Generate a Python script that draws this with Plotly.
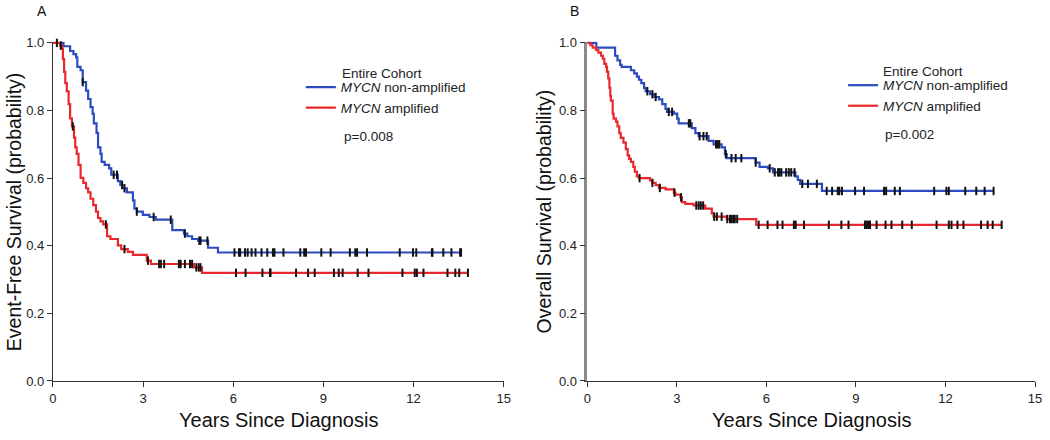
import numpy as np
import plotly.graph_objects as go

# ---------------- data ----------------
# Panel A: Event-free survival
efs_non_t = [0, 0.35, 0.57, 0.68, 0.77, 0.81, 0.92, 0.99, 1.10, 1.17, 1.25, 1.32, 1.36, 1.45, 1.50,
             1.58, 1.62, 1.72, 1.87, 1.94, 2.16, 2.24, 2.31, 2.46, 2.66, 2.71, 2.79, 2.99, 3.21, 3.42,
             3.97, 4.36, 4.47, 4.63, 4.83, 5.16, 5.49, 13.58]
efs_non_s = [1.0, 0.990, 0.976, 0.967, 0.957, 0.929, 0.919, 0.884, 0.859, 0.834, 0.810, 0.790, 0.762,
             0.734, 0.691, 0.672, 0.648, 0.639, 0.629, 0.610, 0.591, 0.580, 0.570, 0.558, 0.534, 0.510,
             0.501, 0.491, 0.485, 0.477, 0.446, 0.436, 0.428, 0.420, 0.415, 0.394, 0.380, 0.380]
efs_non_cens = [0.99, 2.02, 2.13, 2.30, 2.38, 2.79, 3.35, 3.92, 4.39, 4.87, 4.91, 5.14,
                6.04, 6.19, 6.23, 6.39, 6.48, 6.61, 6.74, 6.94, 7.13, 7.32, 7.37, 7.67, 8.23, 8.36,
                8.42, 8.93, 9.24, 9.88, 10.06, 10.12, 10.45, 11.54, 11.98, 12.09, 12.61, 12.63,
                12.99, 13.26, 13.55, 13.58]

efs_amp_t = [0, 0.24, 0.30, 0.33, 0.37, 0.41, 0.46, 0.52, 0.57, 0.63, 0.70, 0.74, 0.79, 0.85, 0.92,
             1.01, 1.10, 1.17, 1.25, 1.34, 1.43, 1.50, 1.58, 1.67, 1.80, 1.91, 2.16, 2.27, 2.49, 2.66,
             3.12, 3.26, 4.69, 4.96, 13.81]
efs_amp_s = [1.0, 0.992, 0.983, 0.952, 0.914, 0.881, 0.857, 0.819, 0.777, 0.753, 0.720, 0.691, 0.672,
             0.639, 0.601, 0.586, 0.570, 0.558, 0.539, 0.520, 0.501, 0.482, 0.472, 0.463, 0.428, 0.420,
             0.401, 0.390, 0.382, 0.373, 0.356, 0.346, 0.336, 0.320, 0.320]
efs_amp_cens = [0.13, 0.26, 0.66, 1.76, 2.38, 3.16, 3.53, 3.59, 3.70, 4.19, 4.25, 4.39, 4.56, 4.63,
                4.77, 4.85, 4.91, 6.09, 6.41, 6.97, 7.22, 7.24, 8.09, 8.49, 8.71, 9.35, 9.51, 9.64,
                10.14, 10.50, 11.63, 12.04, 12.11, 12.33, 13.13, 13.39, 13.52, 13.81]

# Panel B: Overall survival
os_non_t = [0, 0.30, 0.93, 1.01, 1.10, 1.15, 1.46, 1.57, 1.66, 1.73, 1.81, 1.90, 1.95, 2.10, 2.25,
            2.40, 2.51, 2.62, 2.67, 2.90, 3.01, 3.06, 3.50, 3.62, 3.73, 4.06, 4.23, 4.50, 4.61, 4.67,
            5.64, 5.77, 6.05, 6.22, 6.97, 7.05, 7.13, 7.86, 13.61]
os_non_s = [1.0, 0.986, 0.962, 0.948, 0.935, 0.929, 0.919, 0.910, 0.900, 0.891, 0.881, 0.867, 0.857,
            0.848, 0.840, 0.833, 0.819, 0.805, 0.796, 0.791, 0.776, 0.762, 0.748, 0.733, 0.724, 0.710,
            0.700, 0.691, 0.671, 0.659, 0.646, 0.633, 0.629, 0.617, 0.605, 0.595, 0.583, 0.562, 0.562]
os_non_cens = [2.01, 2.18, 2.29, 2.73, 2.84, 3.40, 3.45, 3.76, 3.89, 4.00, 4.31, 4.37, 4.42, 4.64,
               4.83, 4.97, 5.16, 5.64, 6.11, 6.28, 6.39, 6.44, 6.50, 6.66, 6.75, 6.83, 6.94, 7.20,
               7.39, 7.69, 8.02, 8.20, 8.39, 8.44, 8.53, 8.97, 9.27, 9.94, 10.01, 10.30, 10.47,
               11.62, 12.03, 12.11, 12.66, 13.03, 13.31, 13.61]

os_amp_t = [0, 0.10, 0.18, 0.29, 0.37, 0.46, 0.52, 0.57, 0.63, 0.66, 0.70, 0.74, 0.77, 0.79, 0.85,
            0.88, 0.96, 1.01, 1.07, 1.12, 1.21, 1.29, 1.35, 1.40, 1.46, 1.54, 1.59, 1.66, 1.73, 2.10,
            2.18, 2.29, 2.40, 2.62, 2.90, 2.95, 3.12, 3.17, 3.28, 3.56, 3.95, 4.17, 4.23, 4.67, 5.66,
            13.88]
os_amp_s = [1.0, 0.993, 0.986, 0.979, 0.971, 0.962, 0.953, 0.938, 0.929, 0.914, 0.895, 0.867, 0.843,
            0.829, 0.791, 0.776, 0.767, 0.753, 0.733, 0.719, 0.705, 0.686, 0.667, 0.657, 0.648, 0.633,
            0.619, 0.605, 0.600, 0.593, 0.586, 0.579, 0.571, 0.567, 0.557, 0.551, 0.543, 0.529, 0.524,
            0.519, 0.510, 0.496, 0.486, 0.479, 0.462, 0.462]
os_amp_cens = [1.75, 2.18, 2.43, 2.92, 3.14, 3.65, 3.73, 3.80, 3.88, 4.25, 4.34, 4.50, 4.69, 4.78,
               4.83, 4.89, 4.94, 5.02, 5.74, 6.04, 6.37, 6.54, 6.92, 6.98, 7.26, 8.09, 8.51, 8.75,
               9.30, 9.36, 9.41, 9.47, 9.69, 9.99, 10.19, 10.55, 10.87, 11.70, 12.11, 12.20, 12.40,
               12.60, 13.19, 13.41, 13.58, 13.88]

series_names = ["<i>MYCN</i> non-amplified", "<i>MYCN</i> amplified"]
x_ticks = [0, 3, 6, 9, 12, 15]
y_ticks = [0.0, 0.2, 0.4, 0.6, 0.8, 1.0]
p_values = ["p=0.008", "p=0.002"]
y_titles = ["Event-Free Survival (probability)", "Overall Survival (probability)"]
x_title = "Years Since Diagnosis"
legend_title = "Entire Cohort"
panel_labels = ["A", "B"]

BLUE = "#2c4bbf"
RED = "#e8282c"
FONT = "Liberation Sans, Arial, sans-serif"
W, H = 1050, 440


def step_value(times, surv, t):
    idx = np.searchsorted(np.asarray(times), t, side="right") - 1
    return float(np.asarray(surv)[max(idx, 0)])


fig = go.Figure()

panels = [
    ("x", "y", "legend", [(efs_non_t, efs_non_s, efs_non_cens, BLUE), (efs_amp_t, efs_amp_s, efs_amp_cens, RED)]),
    ("x2", "y2", "legend2", [(os_non_t, os_non_s, os_non_cens, BLUE), (os_amp_t, os_amp_s, os_amp_cens, RED)]),
]

for xa, ya, lg, groups in panels:
    for (t, s, c, col), nm in zip(groups, series_names):
        fig.add_trace(go.Scatter(x=t, y=s, mode="lines", line=dict(color=col, width=2.2, shape="hv"),
                                 name=nm, xaxis=xa, yaxis=ya, legend=lg, showlegend=True,
                                 hoverinfo="skip"))
    for (t, s, c, col), nm in zip(groups, series_names):
        cy = [step_value(t, s, v) for v in c]
        fig.add_trace(go.Scatter(x=c, y=cy, mode="markers",
                                 marker=dict(symbol="line-ns", size=6, color="black",
                                             line=dict(color="#111111", width=2)),
                                 xaxis=xa, yaxis=ya, showlegend=False, cliponaxis=False,
                                 hoverinfo="skip"))

# geometry (pixels -> paper)
xA = [49.5 / W, 505 / W]
xB = [589.5 / W, 1042 / W]
yD = [(H - 387.3) / H, (H - 36.7) / H]

axis_common = dict(showgrid=False, zeroline=False, ticks="outside", ticklen=5, tickwidth=1.3,
                   tickcolor="#333333", tickfont=dict(family=FONT, size=13, color="#222222"),
                   showline=True, linewidth=1.3, linecolor="#333333", mirror=False)

fig.update_layout(
    width=W, height=H, margin=dict(l=0, r=0, t=0, b=0),
    paper_bgcolor="white", plot_bgcolor="white",
    font=dict(family=FONT, color="#222222"),
    xaxis=dict(domain=xA, range=[0, 15], tickvals=x_ticks, anchor="y", **axis_common),
    yaxis=dict(domain=yD, range=[0, 1.004], tickvals=y_ticks, tickformat=".1f", anchor="x", **axis_common),
    xaxis2=dict(domain=xB, range=[0, 15], tickvals=x_ticks, anchor="y2", **axis_common),
    yaxis2=dict(domain=yD, range=[0, 1.004], tickvals=y_ticks, tickformat=".1f", anchor="x2",
                **{**axis_common, "linecolor": "#8a8a8a", "linewidth": 2.5}),
    legend=dict(x=300 / W, y=(H - 68) / H, xanchor="left", yanchor="top", bgcolor="rgba(0,0,0,0)",
                font=dict(family=FONT, size=13.5, color="#222222"), tracegroupgap=0, itemwidth=30),
    legend2=dict(x=848 / W, y=(H - 66) / H, xanchor="left", yanchor="top", bgcolor="rgba(0,0,0,0)",
                 font=dict(family=FONT, size=13.5, color="#222222"), tracegroupgap=0, itemwidth=30),
)

ann = []
for i, (xd, xr) in enumerate([(xA, "x"), (xB, "x2")]):
    yr = "y" if i == 0 else "y2"
    ann.append(dict(text=x_title, xref=f"{xr} domain", x=0.5, yref="paper", y=(H - 428) / H,
                    xanchor="center", yanchor="middle", showarrow=False,
                    font=dict(family=FONT, size=20, color="#111111")))
    ann.append(dict(text=y_titles[i], xref="paper", x=(10 if i == 0 else 546) / W,
                    yref=f"{yr} domain", y=0.5, textangle=-90, xanchor="center", yanchor="middle",
                    showarrow=False, font=dict(family=FONT, size=19.5, color="#111111")))
    ann.append(dict(text=panel_labels[i], xref="paper", x=(38 if i == 0 else 577) / W,
                    yref="paper", y=(H - 5) / H, xanchor="center", yanchor="middle",
                    showarrow=False, font=dict(family=FONT, size=14, color="#111111")))

ann.append(dict(text=legend_title, xref="paper", x=340 / W, yref="paper", y=(H - 70) / H,
                xanchor="left", yanchor="middle", showarrow=False,
                font=dict(family=FONT, size=13.5, color="#222222")))
ann.append(dict(text=p_values[0], xref="paper", x=342 / W, yref="paper", y=(H - 135) / H,
                xanchor="left", yanchor="middle", showarrow=False,
                font=dict(family=FONT, size=13.5, color="#222222")))
ann.append(dict(text=legend_title, xref="paper", x=886 / W, yref="paper", y=(H - 68) / H,
                xanchor="left", yanchor="middle", showarrow=False,
                font=dict(family=FONT, size=13.5, color="#222222")))
ann.append(dict(text=p_values[1], xref="paper", x=888 / W, yref="paper", y=(H - 133) / H,
                xanchor="left", yanchor="middle", showarrow=False,
                font=dict(family=FONT, size=13.5, color="#222222")))

fig.update_layout(annotations=ann)

fig.write_html("out.html", config={"displayModeBar": False},
               post_script="document.body.style.margin='0';document.body.style.overflow='hidden';")
